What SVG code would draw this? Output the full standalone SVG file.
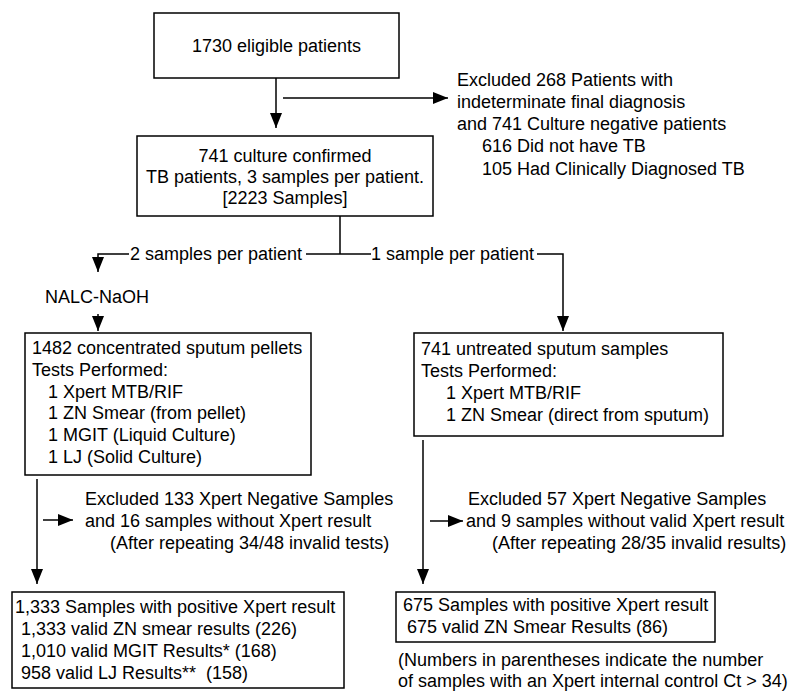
<svg xmlns="http://www.w3.org/2000/svg" width="792" height="691" viewBox="0 0 792 691">
<style>
text{font-family:"Liberation Sans",Arial,sans-serif;font-size:18px;fill:#000}
.box{fill:#fff;stroke:#000;stroke-width:1.5}
.ln{fill:none;stroke:#000;stroke-width:1.5}
.c{text-anchor:middle}
</style>
<defs>
<marker id="ah" markerUnits="userSpaceOnUse" markerWidth="15" markerHeight="12" refX="15" refY="6" orient="auto">
<path d="M0,0 L15,6 L0,12 z" fill="#000"/>
</marker>
</defs>
<rect width="792" height="691" fill="#fff"/>
<g id="connectors">
<line class="ln" x1="276" y1="78" x2="276" y2="128" marker-end="url(#ah)"/>
<line class="ln" x1="283" y1="98" x2="448" y2="98" marker-end="url(#ah)"/>
<line class="ln" x1="340" y1="216" x2="340" y2="254"/>
<polyline class="ln" points="306,254 340,254 371,254"/>
<polyline class="ln" points="129,254 98,254 98,272" marker-end="url(#ah)"/>
<line class="ln" x1="98" y1="314" x2="98" y2="331" marker-end="url(#ah)"/>
<polyline class="ln" points="537,254 563,254 563,331" marker-end="url(#ah)"/>
<line class="ln" x1="37" y1="479" x2="37" y2="584" marker-end="url(#ah)"/>
<line class="ln" x1="43" y1="520" x2="73" y2="520" marker-end="url(#ah)"/>
<line class="ln" x1="423" y1="440" x2="423" y2="584" marker-end="url(#ah)"/>
<line class="ln" x1="430" y1="521" x2="463" y2="521" marker-end="url(#ah)"/>
</g>
<g id="eligible">
<rect class="box" x="154" y="13" width="245" height="65"/>
<text class="c" x="276.5" y="52">1730 eligible patients</text>
</g>
<g id="excluded-top">
<text x="457" y="86">Excluded 268 Patients with</text>
<text x="457" y="108">indeterminate final diagnosis</text>
<text x="457" y="130">and 741 Culture negative patients</text>
<text x="482" y="152">616 Did not have TB</text>
<text x="482" y="175">105 Had Clinically Diagnosed TB</text>
</g>
<g id="confirmed">
<rect class="box" x="137" y="136" width="296" height="80"/>
<text class="c" x="285" y="162">741 culture confirmed</text>
<text class="c" x="285" y="183">TB patients, 3 samples per patient.</text>
<text class="c" x="285" y="204">[2223 Samples]</text>
</g>
<g id="label-2samples"><text x="130" y="260">2 samples per patient</text></g>
<g id="label-1sample"><text x="371" y="260">1 sample per patient</text></g>
<g id="nalc"><text x="45" y="303">NALC-NaOH</text></g>
<g id="pellets">
<rect class="box" x="25" y="333" width="286" height="142"/>
<text x="32" y="354">1482 concentrated sputum pellets</text>
<text x="32" y="376">Tests Performed:</text>
<text x="48" y="398">1 Xpert MTB/RIF</text>
<text x="48" y="419">1 ZN Smear (from pellet)</text>
<text x="48" y="441">1 MGIT (Liquid Culture)</text>
<text x="48" y="463">1 LJ (Solid Culture)</text>
</g>
<g id="untreated">
<rect class="box" x="414" y="333" width="309" height="103"/>
<text x="421" y="355">741 untreated sputum samples</text>
<text x="421" y="377">Tests Performed:</text>
<text x="446" y="399">1 Xpert MTB/RIF</text>
<text x="446" y="421">1 ZN Smear (direct from sputum)</text>
</g>
<g id="excluded-left">
<text x="85" y="505">Excluded 133 Xpert Negative Samples</text>
<text x="85" y="527">and 16 samples without Xpert result</text>
<text x="110" y="549">(After repeating 34/48 invalid tests)</text>
</g>
<g id="excluded-right">
<text x="468" y="505">Excluded 57 Xpert Negative Samples</text>
<text x="466" y="527">and 9 samples without valid Xpert result</text>
<text x="492" y="549">(After repeating 28/35 invalid results)</text>
</g>
<g id="positive-left">
<rect class="box" x="12" y="592" width="332" height="96"/>
<text x="15" y="613">1,333 Samples with positive Xpert result</text>
<text x="21" y="635">1,333 valid ZN smear results (226)</text>
<text x="21" y="657">1,010 valid MGIT Results* (168)</text>
<text x="21" y="679">958 valid LJ Results**&#160; (158)</text>
</g>
<g id="positive-right">
<rect class="box" x="396" y="592" width="319" height="50"/>
<text x="403" y="611">675 Samples with positive Xpert result</text>
<text x="407" y="633">675 valid ZN Smear Results (86)</text>
</g>
<g id="note">
<text x="398" y="666">(Numbers in parentheses indicate the number</text>
<text x="398" y="687">of samples with an Xpert internal control Ct &gt; 34)</text>
</g>
</svg>
